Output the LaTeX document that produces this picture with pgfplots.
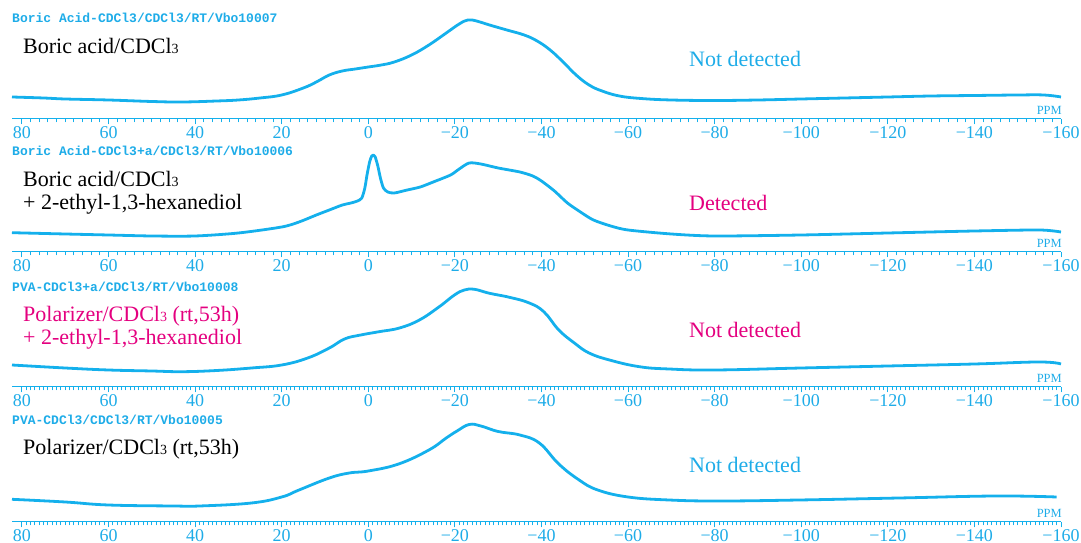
\documentclass[border=0pt]{standalone}
\usepackage{pgfplots}
\pgfplotsset{compat=1.18}
\usepackage{fontspec}
\setmainfont{Liberation Serif}
\newfontfamily\monofont{Liberation Mono}
\definecolor{cyanline}{RGB}{20,176,236}
\definecolor{cyantext}{RGB}{30,172,232}
\definecolor{magtext}{RGB}{228,0,127}
\pgfplotsset{
  nmr/.style={
    width=1049pt, height=120pt, scale only axis,
    xmin=-160, xmax=82.3, x dir=reverse,
    ymin=0, ymax=120,
    axis x line*=bottom, axis y line=none,
    axis line style={cyanline, line width=1pt, -},
    xtick={80,60,40,20,0,-20,-40,-60,-80,-100,-120,-140,-160},
    xticklabels={80,60,40,20,0,−20,−40,−60,−80,−100,−120,−140,−160},
    minor x tick num=9,
    tick align=outside,
    major tick length=5.5pt, minor tick length=3.5pt,
    every tick/.style={cyanline, line width=0.9pt},
    xticklabel style={font=\fontsize{18}{18}\selectfont, text=cyantext, inner sep=1pt, yshift=-0.5pt},
    clip=false,
  },
  spec/.style={cyanline, line width=2.8pt, smooth, tension=0.7, no marks, line join=round},
}
\newcommand{\sub}{{\fontsize{14}{14}\selectfont 3}}
\begin{document}
\begin{tikzpicture}
\path[use as bounding box] (0,0) rectangle (1081pt,543pt);
% Panel 1
\begin{axis}[nmr, at={(12pt,424pt)}, anchor=south west]
\addplot[spec] coordinates {(82.3,22)(75,21)(70,20)(60,19)(50,17.5)(43,17)(35,18)(30,19)(25,21)(20,24)(15,31)(12,37)(9,44)(6,48)(3,50)(0,52)(-3,54)(-6,57)(-10,64)(-14,74)(-18,86)(-21,95)(-23,99)(-25,98)(-28,94)(-32,89)(-36,84)(-39,78)(-42,69)(-45,57)(-48,44)(-51,34)(-54,28)(-58,23)(-63,20.5)(-70,19)(-80,18.5)(-90,19)(-100,20)(-110,21)(-120,22)(-130,23)(-140,23.5)(-150,24)(-156,24)(-160,22)};
\end{axis}
% Panel 2
\begin{axis}[nmr, at={(12pt,291pt)}, anchor=south west]
\addplot[spec, tension=0.45] coordinates {(82.3,19.3)(70,18)(60,17)(50,16)(40,16)(30,19)(20,25)(16,30)(12,37)(9,42)(6,47)(4,49)(2.5,51)(1.5,54)(0.8,64)(0.3,77)(-0.3,90)(-0.8,96)(-1.2,97)(-1.6,95)(-2.2,86)(-2.8,74)(-3.5,64)(-4.5,60)(-6,59)(-9,62)(-12,65)(-15,70)(-19,77)(-21,83)(-23.3,89)(-26,88)(-30,84)(-35,80)(-38,76)(-40,71)(-43,61)(-46,49)(-49,40)(-52,32)(-56,26)(-60,22)(-70,18)(-80,16)(-100,17)(-120,19)(-140,21)(-155,22)(-160,20)};
\end{axis}
% Panel 3
\begin{axis}[nmr, at={(12pt,156pt)}, anchor=south west, minor x tick num=19]
\addplot[spec] coordinates {(82.3,22)(70,19)(60,17)(50,16)(43,15.3)(35,16.5)(27,19)(20,22)(14,29)(9,39)(5.5,48)(2,51.8)(-2.5,55.3)(-7.2,59)(-11.8,67)(-16.4,80.3)(-19.9,92)(-22.2,97)(-24.5,97.7)(-28,93.7)(-32.6,89.7)(-37.2,84)(-40.6,75)(-44,57)(-47.6,44)(-51,34)(-55.7,27)(-62.6,20.3)(-69.5,18)(-80,17)(-100,19)(-120,21)(-140,23)(-155,25)(-160,23)};
\end{axis}
% Panel 4
\begin{axis}[nmr, at={(12pt,21pt)}, anchor=south west, minor x tick num=19]
\addplot[spec] coordinates {(82.3,22.7)(70,20)(60,17)(45,16)(39,16)(27,19)(20,25)(16,32)(9,44)(4.4,49)(0,51)(-7,58)(-14,72)(-18,84)(-20.5,91)(-23.3,97.5)(-26,96)(-30,90.5)(-35,87)(-39.5,79)(-44,58)(-48.7,42)(-53,32)(-60,25)(-69.5,22)(-81,21)(-99.5,22)(-122.6,24)(-145,26)(-159,25)};
\end{axis}
% titles
\begin{scope}[every node/.style={inner sep=0pt, anchor=west, text=cyantext, font=\monofont\bfseries\fontsize{13}{13}\selectfont}]
\node at (12pt,525.5pt) {Boric Acid-CDCl3/CDCl3/RT/Vbo10007};
\node at (12pt,392pt) {Boric Acid-CDCl3+a/CDCl3/RT/Vbo10006};
\node at (12pt,256.5pt) {PVA-CDCl3+a/CDCl3/RT/Vbo10008};
\node at (12pt,123.5pt) {PVA-CDCl3/CDCl3/RT/Vbo10005};
\end{scope}
% sample labels
\begin{scope}[every node/.style={inner sep=0pt, anchor=base west, font=\fontsize{22}{22}\selectfont}]
\node at (23pt,489pt) {Boric acid/CDCl\sub};
\node at (23pt,356.5pt) {Boric acid/CDCl\sub};
\node at (23pt,333pt) {+ 2-ethyl-1,3-hexanediol};
\node[text=magtext] at (23pt,221.3pt) {Polarizer/CDCl\sub{} (rt,53h)};
\node[text=magtext] at (23pt,198pt) {+ 2-ethyl-1,3-hexanediol};
\node at (23pt,88pt) {Polarizer/CDCl\sub{} (rt,53h)};
\node[text=cyantext] at (689pt,476.3pt) {Not detected};
\node[text=magtext] at (689pt,332.5pt) {Detected};
\node[text=magtext] at (689pt,205.5pt) {Not detected};
\node[text=cyantext] at (689pt,70.5pt) {Not detected};
\end{scope}
% PPM
\begin{scope}[every node/.style={inner sep=0pt, anchor=base east, text=cyantext, font=\fontsize{12.5}{12.5}\selectfont}]
\node at (1062pt,428pt) {PPM};
\node at (1062pt,295pt) {PPM};
\node at (1062pt,160pt) {PPM};
\node at (1062pt,25pt) {PPM};
\end{scope}
\end{tikzpicture}
\end{document}
